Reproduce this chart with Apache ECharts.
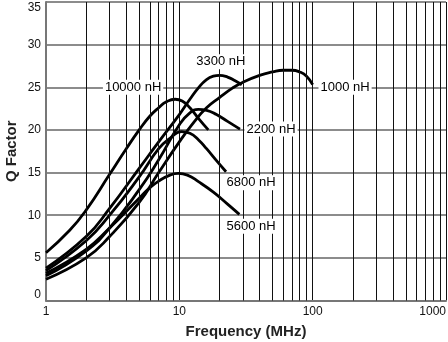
<!DOCTYPE html>
<html>
<head>
<meta charset="utf-8">
<script src="https://cdn.jsdelivr.net/npm/echarts@6/dist/echarts.min.js"></script>
<style>html,body{margin:0;padding:0;background:#fff}#c{width:448px;height:342px}</style>
</head>
<body>
<div id="c"></div>
<script>
// Frequency (MHz) / Q values
const freq10000 = [1, 1.5, 2, 3, 4, 5, 6, 7, 8, 9.3, 10.5, 12, 14, 16.5];
const q10000    = [5.6, 8.2, 10.6, 14.8, 17.8, 20, 21.6, 22.6, 23.3, 23.6, 23.4, 22.6, 21.3, 20.0];
const freq3300 = [1, 2, 3, 5, 7, 10, 12, 14, 16, 18, 20, 23, 26, 29.4];
const q3300    = [3.8, 7.5, 10.8, 15.5, 18.6, 21.8, 23.6, 25, 25.9, 26.3, 26.4, 26.2, 25.8, 25.3];
const freq2200 = [1, 2, 3, 5, 7, 10, 12, 13.9, 16, 19, 23, 28.5];
const q2200    = [2.9, 5.8, 8.5, 13, 16.5, 20.6, 22.0, 22.4, 22.3, 21.8, 21.0, 20.1];
const freq6800 = [1, 2, 3, 5, 7, 8.5, 10.4, 12, 14, 16, 19, 22.4];
const q6800    = [3.5, 7, 10, 14.5, 17.8, 19.0, 19.8, 19.6, 18.8, 17.8, 16.4, 15.1];
const freq5600 = [1, 2, 3, 5, 6, 7, 8.5, 9.8, 11.5, 14, 18, 23, 28.2];
const q5600    = [3.2, 6, 8.5, 12, 13.2, 14, 14.7, 14.9, 14.7, 13.9, 12.7, 11.3, 10.1];
const freq1000 = [1, 2, 3, 5, 7, 10, 13, 16, 20, 25, 30, 40, 50, 60, 70, 80, 90, 100];
const q1000    = [2.5, 5, 7.5, 11.5, 15, 18.6, 21, 22.6, 23.8, 24.9, 25.6, 26.4, 26.8, 27.0, 27.0, 26.8, 26.3, 25.3];

const seriesNames = ['10000 nH', '3300 nH', '2200 nH', '6800 nH', '5600 nH', '1000 nH'];
const seriesFreq = [freq10000, freq3300, freq2200, freq6800, freq5600, freq1000];
const seriesQ = [q10000, q3300, q2200, q6800, q5600, q1000];
// label anchor positions (frequency, Q)
const labelFreq = [4.5, 20.5, 48.7, 34.5, 34.5, 175];
const labelQ = [25.0, 28.0, 20.1, 13.8, 8.7, 25.0];

const minorGrid = [2,3,4,5,6,7,8,9,20,30,40,50,60,70,80,90,200,300,400,500,600,700,800,900];
const xMin = 1, xMax = 1000, yMin = 0, yMax = 35, yStep = 5;

const zip = (a, b) => a.map((v, i) => [v, b[i]]);
const FONT = 'Liberation Sans, Arial, sans-serif';

const series = [{
  type: 'line', data: [], z: 1, silent: true,
  markLine: {
    silent: true, symbol: ['none', 'none'], animation: false,
    label: { show: false },
    lineStyle: { color: '#111', width: 1, type: 'solid' },
    data: minorGrid.map(v => ({ xAxis: v }))
  }
}];
seriesNames.forEach((n, i) => {
  series.push({
    name: n, type: 'line', smooth: 0.5, showSymbol: false, symbol: 'none', z: 3,
    lineStyle: { color: '#000', width: 2.8 },
    data: zip(seriesFreq[i], seriesQ[i]),
    markPoint: {
      symbol: 'rect', symbolSize: 0, animation: false,
      label: {
        show: true, position: 'inside', formatter: n, color: '#000',
        fontFamily: FONT, fontSize: 13,
        backgroundColor: '#fff', padding: [1, 2]
      },
      data: [{ coord: [labelFreq[i], labelQ[i]] }]
    }
  });
});

const chart = echarts.init(document.getElementById('c'), null, { renderer: 'canvas' });
chart.setOption({
  animation: false,
  backgroundColor: '#fff',
  grid: { left: 46, right: 2, top: 2, bottom: 41.5, containLabel: false, outerBoundsMode: 'none' },
  xAxis: {
    type: 'log', logBase: 10, min: xMin, max: xMax,
    name: 'Frequency (MHz)', nameLocation: 'middle', nameGap: 24,
    nameTextStyle: { fontFamily: FONT, fontSize: 15, fontWeight: 'bold', color: '#222', verticalAlign: 'top' },
    axisLine: { show: true, lineStyle: { color: '#777', width: 2 } },
    axisTick: { show: false },
    axisLabel: { color: '#111', fontSize: 12, fontFamily: FONT, margin: 5, alignMaxLabel: 'right',
      formatter: v => String(Math.round(v)) },
    splitLine: { show: true, lineStyle: { color: '#111', width: 1 } }
  },
  yAxis: {
    type: 'value', min: yMin, max: yMax, interval: yStep,
    name: 'Q Factor', nameLocation: 'middle', nameGap: 27, nameMoveOverlap: false,
    nameTextStyle: { fontFamily: FONT, fontSize: 15, fontWeight: 'bold', color: '#222' },
    axisLine: { show: true, lineStyle: { color: '#777', width: 2 } },
    axisTick: { show: false },
    axisLabel: { color: '#111', fontSize: 12, fontFamily: FONT, margin: 5,
      verticalAlignMaxLabel: 'top', verticalAlignMinLabel: 'bottom' },
    splitLine: { show: true, lineStyle: { color: '#666', width: 1.5 } }
  },
  series: series
});
</script>
</body>
</html>
